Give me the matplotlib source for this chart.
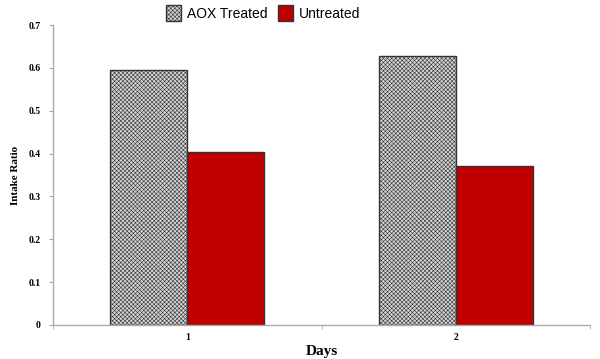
import matplotlib
matplotlib.use("Agg")
import matplotlib.pyplot as plt
import numpy as np

days = ["1", "2"]
aox_treated = [0.595, 0.628]
untreated = [0.404, 0.371]
series_names = ["AOX Treated", "Untreated"]
yticks = [0, 0.1, 0.2, 0.3, 0.4, 0.5, 0.6, 0.7]

plt.rcParams['hatch.color'] = '#b8b8b8'
plt.rcParams['hatch.linewidth'] = 0.4

fig = plt.figure(figsize=(6, 3.59), dpi=100)
ax = fig.add_axes([53/600, 1 - 325/359, 537/600, 300/359])

x = np.arange(len(days))
w = 0.287
b1 = ax.bar(x - w/2, aox_treated, w, facecolor='#d4d4d4', edgecolor='#333333',
            linewidth=1.0, hatch='xxxxxxxx', label=series_names[0])
b2 = ax.bar(x + w/2, untreated, w, facecolor='#c00000', edgecolor='#333333',
            linewidth=1.0, label=series_names[1])

ax.set_xlim(-0.5, 1.5)
ax.set_ylim(0, 0.7)
ax.set_yticks(yticks)
ax.set_yticklabels(["0" if v == 0 else f"{v:.1f}" for v in yticks],
                   fontfamily='Liberation Serif', fontweight='bold', fontsize=7)
ax.set_xticks(x)
ax.set_xticklabels(days, fontfamily='Liberation Serif', fontweight='bold', fontsize=7)
ax.set_xticks([-0.5, 0.5, 1.5], minor=True)
ax.tick_params(axis='x', which='major', length=0, pad=6)
ax.tick_params(axis='x', which='minor', length=3, color='#aaaaaa', direction='out')
ax.tick_params(axis='y', length=3, color='#aaaaaa', pad=6)

for s in ['top', 'right']:
    ax.spines[s].set_visible(False)
for s in ['left', 'bottom']:
    ax.spines[s].set_color('#aaaaaa')
    ax.spines[s].set_linewidth(1.0)

ax.set_ylabel("Intake Ratio", fontfamily='Liberation Serif', fontweight='bold', fontsize=8, labelpad=6)
fig.text(322/600, 1 - 351/359, "Days", ha='center', va='center',
         fontfamily='Liberation Serif', fontweight='bold', fontsize=11)

leg = fig.legend(handles=[b1, b2], labels=series_names, loc='center', bbox_to_anchor=(263/600, 1 - 13/359),
                 ncol=2, frameon=False, prop={'family': 'Liberation Sans', 'size': 10},
                 handlelength=1.1, handleheight=1.3, handletextpad=0.4, columnspacing=0.8,
                 borderpad=0.1)

fig.savefig("out.png", dpi=100)
